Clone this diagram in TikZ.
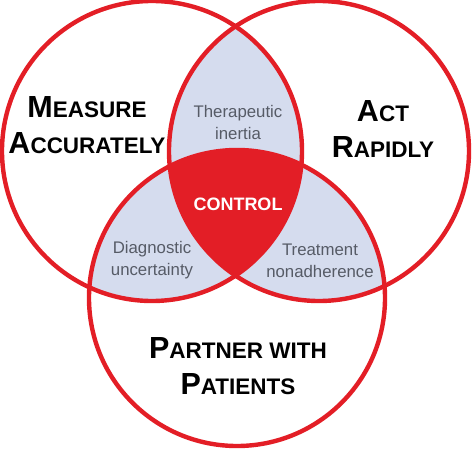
\documentclass[tikz,border=0pt]{standalone}
\usepackage{fontspec}
\setmainfont{Liberation Sans}
\definecolor{vred}{HTML}{E31E26}
\definecolor{vblue}{HTML}{D5DCEE}
\definecolor{vgray}{HTML}{565B66}
\newcommand\vsc[2]{{\fontsize{30.5}{36}\selectfont #1}{\fontsize{22.5}{36}\selectfont #2}}
\begin{document}
\begin{tikzpicture}[x=1pt,y=-1pt,
  ring/.style={draw=vred,line width=4.4pt},
  big/.style={font=\bfseries\fontsize{30.5}{36}\selectfont, align=center, text=black, inner sep=0pt},
  small/.style={font=\fontsize{16.8}{22}\selectfont, text=vgray, align=center, inner sep=0pt},
  core/.style={font=\bfseries\fontsize{18}{22}\selectfont, text=white, inner sep=0pt}]
\useasboundingbox (0,0) rectangle (474,452);
\coordinate (A) at (152,151);
\coordinate (B) at (319,151);
\coordinate (C) at (237,298);
\def\ra{150pt}
\def\rc{148pt}
% pairwise overlaps
\begin{scope}
  \clip (A) circle[radius=\ra];
  \fill[vblue] (B) circle[radius=\ra];
  \fill[vblue] (C) circle[radius=\rc];
\end{scope}
\begin{scope}
  \clip (B) circle[radius=\ra];
  \fill[vblue] (C) circle[radius=\rc];
\end{scope}
% triple overlap
\begin{scope}
  \clip (A) circle[radius=\ra];
  \clip (B) circle[radius=\ra];
  \fill[vred] (C) circle[radius=\rc];
\end{scope}
\draw[ring] (A) circle[radius=\ra];
\draw[ring] (B) circle[radius=\ra];
\draw[ring] (C) circle[radius=\rc];
% labels
\node[big] (measure) at (87,125.5) {\vsc{M}{EASURE}\\\vsc{A}{CCURATELY}};
\node[big] (act) at (383,129) {\vsc{A}{CT}\\\vsc{R}{APIDLY}};
\node[big] (partner) at (238,366.5) {\vsc{P}{ARTNER WITH}\\\vsc{P}{ATIENTS}};
\node[small] (inertia) at (238,122) {Therapeutic\\inertia};
\node[small] (diag) at (152,260.5) {Diagnostic\\uncertainty};
\node[small] (adher) at (320,260.5) {Treatment\\nonadherence};
\node[core] (control) at (238,204) {CONTROL};
\end{tikzpicture}
\end{document}
